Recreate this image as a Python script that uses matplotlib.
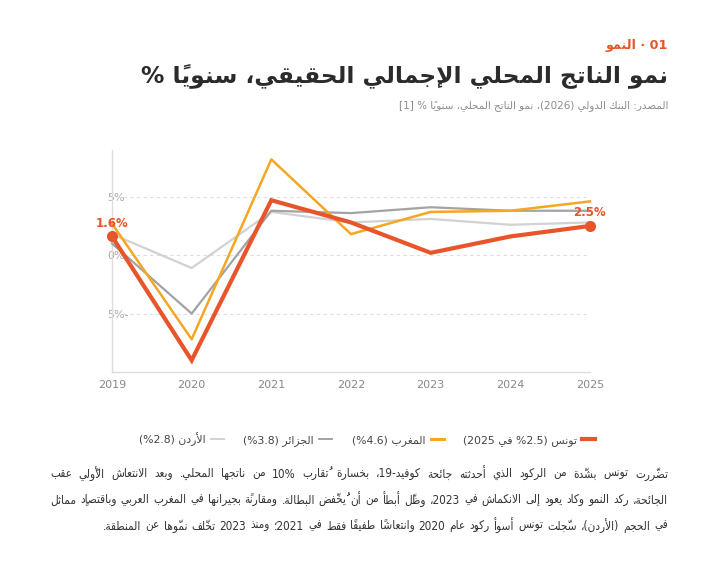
import re
import matplotlib
matplotlib.use('Agg')
import matplotlib.pyplot as plt
from matplotlib.lines import Line2D

# matplotlib does not shape Arabic: use DejaVu Sans (has presentation forms)
plt.rcParams['font.family'] = ['DejaVu Sans']

# ---- data ----
years = [2019, 2020, 2021, 2022, 2023, 2024, 2025]
tunisia = [1.6, -9.0, 4.7, 2.8, 0.2, 1.6, 2.5]
morocco = [2.7, -7.2, 8.2, 1.8, 3.7, 3.8, 4.6]
algeria = [1.0, -5.0, 3.8, 3.6, 4.1, 3.8, 3.8]
jordan = [1.8, -1.1, 3.7, 2.8, 3.1, 2.6, 2.8]
y_ticks = [-5, 0, 5]

legend_labels = ['تونس (%2.5 في 2025)', 'المغرب (%4.6)', 'الجزائر (%3.8)', 'الأردن (%2.8)']
kicker = '01 · النمو'
title = 'نمو الناتج المحلي الإجمالي الحقيقي، سنوياً %'
source = 'المصدر: البنك الدولي (2026)، نمو الناتج المحلي، سنوياً % [1]'
para = [
    'تضرّرت تونس بشدّة من الركود الذي أحدثته جائحة كوفيد-19، بخسارة تُقارب 10% من ناتجها المحلي. وبعد الانتعاش الأوّلي عقب',
    'الجائحة، ركد النمو وكاد يعود إلى الانكماش في 2023، وظلّ أبطأ من أن يُخفّض البطالة. ومقارنةً بجيرانها في المغرب العربي وباقتصادٍ مماثل',
    'في الحجم (الأردن)، سجّلت تونس أسوأ ركودٍ عام 2020 وانتعاشاً طفيفاً فقط في 2021؛ ومنذ 2023 تخلّف نموّها عن المنطقة.',
]

RED = '#e8552a'
ORANGE = '#f5a623'
GRAY = '#a3a3a3'
LIGHT = '#d2d2d2'

# ---- minimal arabic shaping + bidi ----
FOUR = {'ئ': 0xFE89, 'ب': 0xFE8F, 'ت': 0xFE95, 'ث': 0xFE99, 'ج': 0xFE9D, 'ح': 0xFEA1,
        'خ': 0xFEA5, 'س': 0xFEB1, 'ش': 0xFEB5, 'ص': 0xFEB9, 'ض': 0xFEBD, 'ط': 0xFEC1,
        'ظ': 0xFEC5, 'ع': 0xFEC9, 'غ': 0xFECD, 'ف': 0xFED1, 'ق': 0xFED5, 'ك': 0xFED9,
        'ل': 0xFEDD, 'م': 0xFEE1, 'ن': 0xFEE5, 'ه': 0xFEE9, 'ي': 0xFEF1}
TWO = {'آ': 0xFE81, 'أ': 0xFE83, 'ؤ': 0xFE85, 'إ': 0xFE87, 'ا': 0xFE8D, 'ة': 0xFE93,
       'د': 0xFEA9, 'ذ': 0xFEAB, 'ر': 0xFEAD, 'ز': 0xFEAF, 'و': 0xFEED, 'ى': 0xFEEF}
LAMALEF = {'آ': 0xFEF5, 'أ': 0xFEF7, 'إ': 0xFEF9, 'ا': 0xFEFB}
MARKS = set(chr(c) for c in range(0x064B, 0x0653))
MIRROR = {'(': ')', ')': '(', '[': ']', ']': '['}


def shape(s):
    base = [c for c in s]
    n = len(base)

    def prev_base(i):
        j = i - 1
        while j >= 0 and base[j] in MARKS:
            j -= 1
        return j

    def next_base(i):
        j = i + 1
        while j < n and base[j] in MARKS:
            j += 1
        return j

    out = []
    i = 0
    while i < n:
        c = base[i]
        if c in MARKS or (c not in FOUR and c not in TWO):
            out.append(c)
            i += 1
            continue
        p = prev_base(i)
        joins_prev = p >= 0 and base[p] in FOUR
        nx = next_base(i)
        if c == 'ل' and nx < n and base[nx] in LAMALEF:
            code = LAMALEF[base[nx]] + (1 if joins_prev else 0)
            out.append(chr(code))
            out.extend(base[i + 1:nx])
            i = nx + 1
            continue
        joins_next = c in FOUR and nx < n and (base[nx] in FOUR or base[nx] in TWO)
        if c in FOUR:
            b = FOUR[c]
            if joins_prev and joins_next:
                code = b + 3
            elif joins_prev:
                code = b + 1
            elif joins_next:
                code = b + 2
            else:
                code = b
        else:
            code = TWO[c] + (1 if joins_prev else 0)
        out.append(chr(code))
        i += 1
    return ''.join(out)


def ar(s):
    shaped = shape(s)
    parts = re.split(r'(%?\d+(?:[.,:]\d+)*%?)', shaped)
    out = []
    for k, p in enumerate(parts):
        if k % 2 == 1:
            out.append(p)
        else:
            cl = re.findall('.[\u064B-\u0652]*', p, flags=re.S)
            out.append(''.join(MIRROR.get(c[0], c[0]) + c[1:] for c in reversed(cl)))
    return ''.join(reversed(out))


# ---- figure ----
fig = plt.figure(figsize=(7.2, 5.66), dpi=100)
ax = fig.add_axes([112 / 720, 1 - 372 / 566, 478 / 720, 222 / 566])

for v in y_ticks:
    ax.axhline(v, xmin=0.024, xmax=1, color='#dedede', lw=0.8, ls=(0, (3, 3)), zorder=0)

ax.plot(years, jordan, color=LIGHT, lw=1.6, clip_on=False, zorder=2)
ax.plot(years, algeria, color=GRAY, lw=1.6, clip_on=False, zorder=3)
ax.plot(years, morocco, color=ORANGE, lw=1.8, clip_on=False, zorder=4)
ax.plot(years, tunisia, color=RED, lw=3.0, clip_on=False, zorder=5, solid_joinstyle='miter')
ax.plot([years[0], years[-1]], [tunisia[0], tunisia[-1]], 'o', ms=7, color=RED,
        clip_on=False, zorder=6)
for i in (0, -1):
    ax.annotate(f'{tunisia[i]}%', (years[i], tunisia[i]), xytext=(0, 5),
                textcoords='offset points', ha='center', va='bottom', color=RED,
                fontsize=8.5, fontweight='bold', zorder=7)

ax.set_xlim(2019, 2025)
ax.set_ylim(-10, 9)
ax.set_xticks(years)
ax.set_xticklabels([str(y) for y in years])
ax.set_yticks(y_ticks)
ax.set_yticklabels([ar(f'{v}%') for v in y_ticks])
for t in ax.get_yticklabels():
    t.set_horizontalalignment('left')
ax.tick_params(axis='x', length=0, pad=6, colors='#888888', labelsize=8)
ax.tick_params(axis='y', length=0, pad=3.6, colors='#aaaaaa', labelsize=8)
for s in ('top', 'right'):
    ax.spines[s].set_visible(False)
for s in ('left', 'bottom'):
    ax.spines[s].set_color('#dddddd')
    ax.spines[s].set_linewidth(1)

# legend (right to left)
handles = [Line2D([], [], color=RED, lw=3), Line2D([], [], color=ORANGE, lw=2.2),
           Line2D([], [], color=GRAY, lw=1.4), Line2D([], [], color=LIGHT, lw=1.4)]
leg = fig.legend(handles[::-1], [ar(l) for l in legend_labels[::-1]], ncol=4,
                 markerfirst=False, frameon=False, loc='center',
                 bbox_to_anchor=(367 / 720, 1 - 439 / 566), handlelength=1.2,
                 handletextpad=0.5, columnspacing=1.8, fontsize=7.8)
for t in leg.get_texts():
    t.set_color('#444444')

# header
xr = 668 / 720
fig.text(xr, 1 - 45 / 566, ar(kicker), ha='right', va='center', color=RED,
         fontsize=9.2, fontweight='bold')
fig.text(xr, 1 - 77 / 566, ar(title), ha='right', va='center', color='#2b2b2b',
         fontsize=16.8, fontweight='bold')
fig.text(xr, 1 - 106 / 566, ar(source), ha='right', va='center', color='#8c8c8c',
         fontsize=7.5)

# paragraph: justified lines, right to left word placement
renderer = fig.canvas.get_renderer()
x_left, x_right = 50, 668
target = x_right - x_left
PSTRETCH = 'condensed'


def word_width(w, fs):
    t = fig.text(0, 0, w, fontsize=fs, fontstretch=PSTRETCH)
    wd = t.get_window_extent(renderer).width
    t.remove()
    return wd


fs = 10
space = word_width(ar('ا ا'), fs) - 2 * word_width(ar('ا'), fs)
natural = []
for l in para:
    ws = l.split(' ')
    natural.append(sum(word_width(ar(w), fs) for w in ws) + 1.2 * space * (len(ws) - 1))
fs = fs * target / max(natural)
space = space * fs / 10

for k, line in enumerate(para):
    y = 1 - (474 + 26 * k) / 566
    words = line.split(' ')
    shaped = [ar(w) for w in words]
    widths = [word_width(w, fs) for w in shaped]
    if k < len(para) - 1:
        gap = (target - sum(widths)) / (len(words) - 1)
    else:
        gap = 1.2 * space
    x = x_right
    for w, wd in zip(shaped, widths):
        fig.text(x / 720, y, w, ha='right', va='center', color='#333333', fontsize=fs,
                 fontstretch=PSTRETCH)
        x -= wd + gap

fig.savefig('out.png', dpi=100, facecolor='white')
